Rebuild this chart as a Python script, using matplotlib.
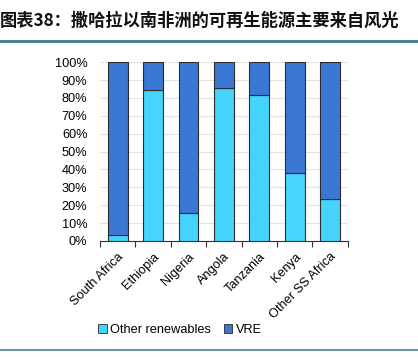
import numpy as np
import matplotlib
matplotlib.use("Agg")
import matplotlib.pyplot as plt
from matplotlib.lines import Line2D
from matplotlib.patches import Patch

plt.rcParams["font.family"] = ["Liberation Sans", "DejaVu Sans"]

CYAN = "#45d3ff"
BLUE = "#3b78d4"
EDGE = "#2b2b2b"
RULE = "#4f8199"

countries = ["South Africa", "Ethiopia", "Nigeria", "Angola", "Tanzania", "Kenya", "Other SS Africa"]
other_renewables = [3.2, 84.3, 15.5, 85.4, 81.7, 37.9, 23.3]
vre = [100 - v for v in other_renewables]

fig = plt.figure(figsize=(4.18, 3.57), dpi=100)
fig.patch.set_facecolor("white")

# title + rules
fig.text(0.0, 0.942, "图表38：撒哈拉以南非洲的可再生能源主要来自风光",
         family=["Noto Sans CJK SC", "DejaVu Sans"], fontsize=12.4,
         fontweight="bold", style="italic", color="#111111", va="center", ha="left")
fig.add_artist(Line2D([0, 1], [0.885, 0.885], color=RULE, linewidth=2.2,
                      transform=fig.transFigure))
fig.add_artist(Line2D([0, 1], [0.02, 0.02], color=RULE, linewidth=1.2,
                      transform=fig.transFigure))

ax = fig.add_axes([0.239, 0.325, 0.593, 0.501])
x = np.arange(len(countries))
ax.bar(x, other_renewables, width=0.56, color=CYAN, edgecolor=EDGE, linewidth=0.8, zorder=3)
ax.bar(x, vre, bottom=other_renewables, width=0.56, color=BLUE, edgecolor=EDGE, linewidth=0.8, zorder=3)

ax.set_xlim(-0.5, len(countries) - 0.5)
ax.set_ylim(0, 100)
ax.set_yticks(np.arange(0, 101, 10))
ax.set_yticklabels([f"{v}%" for v in range(0, 101, 10)], fontsize=9.2)
ax.tick_params(axis="y", length=0, pad=9)
ax.grid(axis="y", color="#e3e3e3", linewidth=0.8, zorder=0)

ax.set_xticks(x)
ax.set_xticklabels(countries, rotation=45, ha="right", rotation_mode="anchor", fontsize=9.2)
ax.set_xticks(np.arange(-0.5, len(countries), 1), minor=True)
ax.tick_params(axis="x", which="major", length=0, pad=7)
ax.tick_params(axis="x", which="minor", length=4, width=0.8, color="#333333", direction="out")

for s in ["left", "right", "top"]:
    ax.spines[s].set_visible(False)
ax.spines["bottom"].set_color("#333333")
ax.spines["bottom"].set_linewidth(0.8)

handles = [Patch(facecolor=CYAN, edgecolor=EDGE, linewidth=0.6, label="Other renewables"),
           Patch(facecolor=BLUE, edgecolor=EDGE, linewidth=0.6, label="VRE")]
fig.legend(handles=handles, loc="center", bbox_to_anchor=(0.43, 0.076), ncol=2,
           frameon=False, fontsize=9.2, handlelength=0.7, handleheight=0.7,
           handletextpad=0.25, columnspacing=1.0)

fig.savefig("out.png", dpi=100, facecolor="white")
